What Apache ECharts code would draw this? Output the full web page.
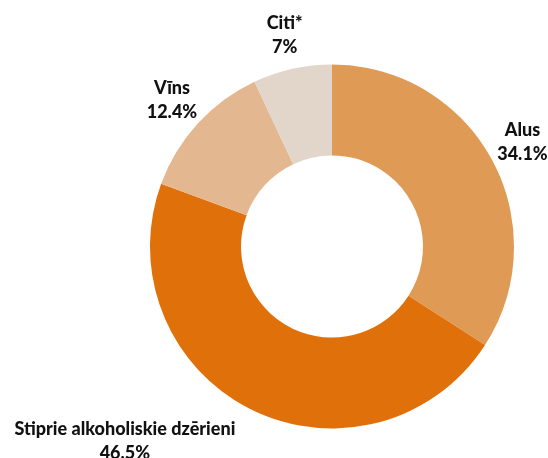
<!DOCTYPE html>
<html>
<head>
<meta charset="utf-8">
<script src="https://cdn.jsdelivr.net/npm/echarts@6/dist/echarts.min.js"></script>
<style>
  html, body { margin: 0; padding: 0; background: #fff; }
  #main { width: 548px; height: 458px; }
</style>
</head>
<body>
<div id="main"></div>
<script>
// data
const categories = ['Alus', 'Stiprie alkoholiskie dzērieni', 'Vīns', 'Citi*'];
const values = [34.1, 46.5, 12.4, 7];
const colors = ['#DF9B55', '#E07009', '#E3B891', '#E2D6CA'];

const center = [332, 246.5];
const radius = [91, 182];
const labelGap = 35;
const total = values.reduce((a, b) => a + b, 0);

// middle angle of a slice, clockwise from 12 o'clock
function midAngle(i) {
  let before = 0;
  for (let k = 0; k < i; k++) before += values[k];
  return (90 - (before + values[i] / 2) / total * 360) * Math.PI / 180;
}

const chart = echarts.init(document.getElementById('main'));

chart.setOption({
  animation: false,
  color: colors,
  series: [{
    type: 'pie',
    center: center,
    radius: radius,
    startAngle: 90,
    clockwise: true,
    avoidLabelOverlap: false,
    data: categories.map((c, i) => ({ name: c, value: values[i] })),
    label: {
      show: true,
      position: 'outside',
      formatter: '{b}\n{c}%',
      fontFamily: 'Lato',
      fontWeight: 900,
      fontSize: 18,
      lineHeight: 24,
      color: '#111'
    },
    labelLine: { show: false },
    labelLayout: function (params) {
      const a = midAngle(params.dataIndex);
      const r = radius[1] + labelGap;
      let x = center[0] + Math.cos(a) * r;
      const y = center[1] - Math.sin(a) * r;
      // the big bottom-left label sits to the left of its anchor
      if (params.dataIndex === 1) x -= params.labelRect.width / 2;
      return { x: x, y: y, align: 'center', verticalAlign: 'middle' };
    },
    emphasis: { disabled: true }
  }]
});
</script>
</body>
</html>
